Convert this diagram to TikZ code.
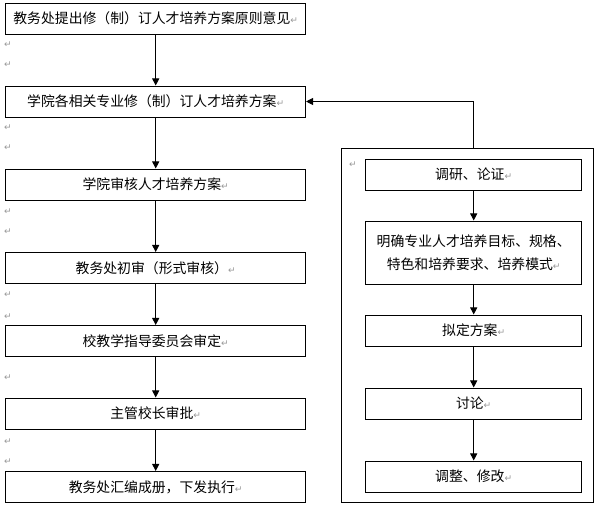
\documentclass[tikz,border=0pt]{standalone}
\usepackage{fontspec}
\newfontfamily\cjk{Noto Sans CJK SC}
\newfontfamily\markfont{DejaVu Sans}
\usetikzlibrary{arrows.meta}
\newcommand{\pmark}{{\markfont\color{gray!80}\fontsize{6.5pt}{7pt}\selectfont ↵}}

\begin{document}
\begin{tikzpicture}[x=0.025cm,y=-0.025cm,
    box/.style={draw,line width=0.7pt,inner sep=0pt,minimum height=0.775cm,
        font=\cjk\fontsize{9.85pt}{16pt}\selectfont,align=center},
    leftbox/.style={box,minimum width=7.49cm},
    rightbox/.style={box,minimum width=5.4cm},
    arr/.style={line width=0.7pt,-{Triangle[length=5pt,width=5pt]}},
    retmark/.style={inner sep=0pt}]
        \useasboundingbox (0,0) rectangle (600,507);

        % Draw the main steps on the left
        \node[leftbox] (s1) at (155.7,18.5) {教务处提出修（制）订人才培养方案原则意见\pmark};
        \node[leftbox] (s2) at (155.7,101.5) {学院各相关专业修（制）订人才培养方案\pmark};
        \node[leftbox] (s3) at (155.7,184.5) {学院审核人才培养方案\pmark};
        \node[leftbox] (s4) at (155.7,268) {教务处初审（形式审核）\pmark};
        \node[leftbox] (s5) at (155.7,341) {校教学指导委员会审定\pmark};
        \node[leftbox] (s6) at (155.7,413.5) {主管校长审批\pmark};
        \node[leftbox] (s7) at (155.7,487) {教务处汇编成册，下发执行\pmark};

        % Draw the frame round the sub-steps
        \node[draw,line width=0.7pt,minimum width=6.29cm,minimum height=8.85cm] (frame) at (467.5,325.3) {};
        \node[retmark] (fm) at (353,165) {\pmark};

        % Draw the sub-steps on the right
        \node[rightbox] (r1) at (473.7,174.5) {调研、论证\pmark};
        \node[rightbox,minimum height=1.575cm] (r2) at (473.7,252.5) {明确专业人才培养目标、规格、\\特色和培养要求、培养模式\pmark};
        \node[rightbox] (r3) at (473.7,330.5) {拟定方案\pmark};
        \node[rightbox] (r4) at (473.7,403.5) {讨论\pmark};
        \node[rightbox] (r5) at (473.7,476.5) {调整、修改\pmark};

        % Connect the steps
        \foreach \a/\b in {s1/s2,s2/s3,s3/s4,s4/s5,s5/s6,s6/s7,r1/r2,r2/r3,r3/r4,r4/r5}
            \draw[arr] (\a) -- (\b);
        \draw[arr] (r1.north |- frame.north) |- (s2.east);

        % Paragraph marks in the left margin
        \foreach \y in {45,65,128,148,212,232,295,317,378,442,462}
            \node[retmark] (m\y) at (8,\y) {\pmark};
    \end{tikzpicture}
\end{document}
